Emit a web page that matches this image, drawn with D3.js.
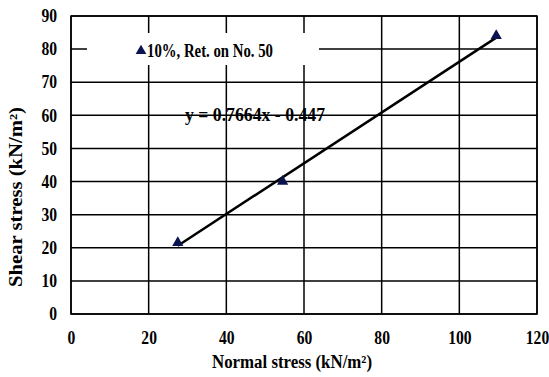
<!DOCTYPE html>
<html>
<head>
<meta charset="utf-8">
<script src="https://cdn.jsdelivr.net/npm/d3@7/dist/d3.min.js"></script>
<style>
  body { margin: 0; background: #fff; }
  text { font-family: "Liberation Serif", "Times New Roman", serif; font-weight: bold; fill: #000; }
</style>
</head>
<body>
<div id="chart"></div>
<script>
// data
const normalStress = [27.5, 54.5, 109.5];
const shearStress = [21.5, 40, 84];
const slope = 0.7664;
const intercept = -0.447;
const xTicks = [0, 20, 40, 60, 80, 100, 120];
const yTicks = [0, 10, 20, 30, 40, 50, 60, 70, 80, 90];
const seriesName = '10%, Ret. on No. 50';

const W = 549, H = 377;
const m = { left: 71, right: 12, top: 16, bottom: 63 };
const w = W - m.left - m.right;
const h = H - m.top - m.bottom;

const svg = d3.select('#chart').append('svg')
  .attr('width', W)
  .attr('height', H);

const x = d3.scaleLinear().domain([0, 120]).range([0, w]);
const y = d3.scaleLinear().domain([0, 90]).range([h, 0]);

const g = svg.append('g')
  .attr('transform', 'translate(' + m.left + ',' + m.top + ')');

// grid lines
g.selectAll('.hgrid').data(yTicks).enter().append('line')
  .attr('x1', 0).attr('x2', w)
  .attr('y1', d => y(d)).attr('y2', d => y(d))
  .attr('stroke', '#000').attr('stroke-width', 1.5);
g.selectAll('.vgrid').data(xTicks).enter().append('line')
  .attr('y1', 0).attr('y2', h)
  .attr('x1', d => x(d)).attr('x2', d => x(d))
  .attr('stroke', '#000').attr('stroke-width', 1.5);

g.append('rect')
  .attr('width', w).attr('height', h)
  .attr('fill', 'none').attr('stroke', '#000').attr('stroke-width', 1.5);

// legend box covering grid
g.append('rect')
  .attr('x', 87 - m.left).attr('y', 33 - m.top)
  .attr('width', 232).attr('height', 32)
  .attr('fill', '#fff');
g.append('path')
  .attr('d', d3.symbol().type(d3.symbolTriangle).size(50))
  .attr('transform', 'translate(' + (141 - m.left) + ',' + (51 - m.top) + ')')
  .attr('fill', '#0b1450');
g.append('text')
  .attr('x', 147 - m.left).attr('y', 57 - m.top)
  .attr('font-size', 18)
  .attr('textLength', 126).attr('lengthAdjust', 'spacingAndGlyphs')
  .text(seriesName);

// axis labels (the picture's text is a bit condensed)
const xAxis = d3.axisBottom(x).tickValues(xTicks).tickSize(0).tickPadding(17);
const yAxis = d3.axisLeft(y).tickValues(yTicks).tickSize(0).tickPadding(14);

const gx = g.append('g').attr('transform', 'translate(0,' + h + ')').call(xAxis);
const gy = g.append('g').call(yAxis);
[gx, gy].forEach(a => {
  a.select('.domain').remove();
  a.selectAll('text')
    .attr('font-family', '"Liberation Serif", serif')
    .attr('font-weight', 'bold')
    .attr('font-size', 18)
    .attr('fill', '#000')
    .attr('textLength', d => String(d).length * 7.8)
    .attr('lengthAdjust', 'spacingAndGlyphs');
});

// trend line
const x0 = d3.min(normalStress), x1 = d3.max(normalStress);
g.append('line')
  .attr('x1', x(x0)).attr('y1', y(slope * x0 + intercept))
  .attr('x2', x(x1)).attr('y2', y(slope * x1 + intercept))
  .attr('stroke', '#000').attr('stroke-width', 2.5);

g.append('text')
  .attr('x', 185 - m.left).attr('y', 121 - m.top)
  .attr('font-size', 18)
  .attr('textLength', 140).attr('lengthAdjust', 'spacingAndGlyphs')
  .text('y = ' + slope + 'x - ' + Math.abs(intercept));

// points
g.selectAll('.pt').data(normalStress).enter().append('path')
  .attr('d', d3.symbol().type(d3.symbolTriangle).size(55))
  .attr('transform', (d, i) => 'translate(' + x(d) + ',' + y(shearStress[i]) + ')')
  .attr('fill', '#0b1450');

// titles
svg.append('text')
  .attr('x', 292).attr('y', 368)
  .attr('text-anchor', 'middle')
  .attr('font-size', 18)
  .attr('textLength', 160).attr('lengthAdjust', 'spacingAndGlyphs')
  .text('Normal stress (kN/m²)');

svg.append('text')
  .attr('transform', 'translate(22,197) rotate(-90)')
  .attr('text-anchor', 'middle')
  .attr('font-size', 18)
  .attr('textLength', 180).attr('lengthAdjust', 'spacingAndGlyphs')
  .text('Shear stress (kN/m²)');
</script>
</body>
</html>
